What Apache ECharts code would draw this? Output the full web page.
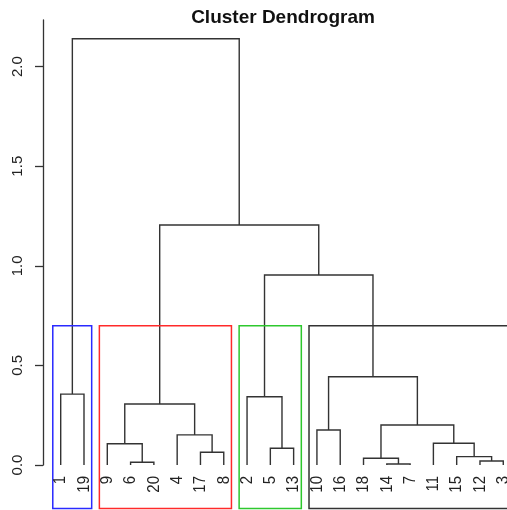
<!DOCTYPE html>
<html>
<head>
<meta charset="utf-8">
<script src="https://cdn.jsdelivr.net/npm/echarts@6/dist/echarts.min.js"></script>
<style>html,body{margin:0;padding:0;background:#fff}#c{width:507px;height:510px}</style>
</head>
<body>
<div id="c"></div>
<script>
// ---- data ----
var titleText = 'Cluster Dendrogram';
// leaf labels in dendrogram order (left to right)
var leafOrder = [1, 19, 9, 6, 20, 4, 17, 8, 2, 5, 13, 10, 16, 18, 14, 7, 11, 15, 12, 3];
// merge table (hclust style): negative = leaf id, positive = earlier merge step
var mergeLeft  = [-14, -6, -12, -18, -15, -17, -5, -9, -11, -4, -10, 4, 8, -2, -1, 11, 14, 13, 15];
var mergeRight = [-7, -20, -3, 1, 3, -8, -13, 2, 5, 6, -16, 9, 10, 7, -19, 12, 16, 17, 18];
var mergeHeight = [0.005, 0.014, 0.020, 0.034, 0.042, 0.064, 0.084, 0.107, 0.109, 0.151,
                   0.176, 0.201, 0.306, 0.343, 0.356, 0.443, 0.954, 1.205, 2.140];
// rect.hclust(k = 4)
var clusterSizes = [2, 6, 3, 9];
var clusterColors = ['#2a2aff', '#ff2a2a', '#2ec82e', '#333333'];
var yTicks = [0, 0.5, 1, 1.5, 2];

// ---- derived (through the tree structure) ----
var leafPos = {};
leafOrder.forEach(function (id, i) { leafPos[id] = i + 1; });
var mergeX = [];
function nodeX(v) { return v < 0 ? leafPos[-v] : mergeX[v - 1]; }
function nodeH(v) { return v < 0 ? 0 : mergeHeight[v - 1]; }
var branchData = [];
for (var i = 0; i < mergeHeight.length; i++) {
  var xl = nodeX(mergeLeft[i]), xr = nodeX(mergeRight[i]);
  mergeX.push((xl + xr) / 2);
  branchData.push([xl, nodeH(mergeLeft[i]), xr, nodeH(mergeRight[i]), mergeHeight[i]]);
}
var k = clusterSizes.length;
var hs = mergeHeight.slice().sort(function (a, b) { return b - a; });
var rectTop = (hs[k - 2] + hs[k - 1]) / 2;
var rectBottom = -0.218;
var rectData = [];
var cum = 0;
clusterSizes.forEach(function (s, j) {
  rectData.push([cum + 0.66, cum + s + 0.33, rectTop, rectBottom, j]);
  cum += s;
});
var labelData = leafOrder.map(function (id, i) { return [i + 1, String(id)]; });

var FONT = '"Liberation Sans", Arial, sans-serif';
var chart = echarts.init(document.getElementById('c'), null, {renderer: 'canvas'});
chart.setOption({
  animation: false,
  backgroundColor: '#ffffff',
  title: {
    text: titleText,
    left: 278,
    textAlign: 'center',
    top: 3,
    textStyle: {fontFamily: FONT, fontSize: 19, fontWeight: 'bold', color: '#111'}
  },
  grid: {left: 43, right: 0, top: 20, bottom: 45, containLabel: false},
  xAxis: {
    type: 'value', min: 0.24, max: 20.16,
    show: false, splitLine: {show: false}
  },
  yAxis: {
    type: 'value', min: 0, max: 2.234,
    axisLine: {show: true, lineStyle: {color: '#333', width: 1.3}},
    axisTick: {show: true, length: 8, customValues: yTicks, lineStyle: {color: '#333', width: 1.3}},
    axisLabel: {
      customValues: yTicks, rotate: 90, margin: 18,
      fontFamily: FONT, fontSize: 15, color: '#222',
      formatter: function (v) { return v.toFixed(1); }
    },
    splitLine: {show: false}
  },
  series: [
    {
      type: 'custom',
      clip: false,
      data: branchData,
      renderItem: function (params, api) {
        var a = api.coord([api.value(0), api.value(1)]);
        var b = api.coord([api.value(0), api.value(4)]);
        var c = api.coord([api.value(2), api.value(4)]);
        var d = api.coord([api.value(2), api.value(3)]);
        return {
          type: 'polyline',
          shape: {points: [a, b, c, d]},
          style: {stroke: '#333', lineWidth: 1.4, fill: null}
        };
      }
    },
    {
      type: 'custom',
      clip: false,
      data: rectData,
      renderItem: function (params, api) {
        var p0 = api.coord([api.value(0), api.value(2)]);
        var p1 = api.coord([api.value(1), api.value(3)]);
        return {
          type: 'rect',
          shape: {x: p0[0], y: p0[1], width: p1[0] - p0[0], height: p1[1] - p0[1]},
          style: {stroke: clusterColors[api.value(4)], lineWidth: 1.5, fill: null}
        };
      }
    },
    {
      type: 'custom',
      clip: false,
      data: labelData,
      renderItem: function (params, api) {
        var p = api.coord([api.value(0), -0.055]);
        return {
          type: 'text',
          x: p[0], y: p[1],
          rotation: Math.PI / 2,
          scaleY: 1.15,
          style: {
            text: labelData[params.dataIndex][1],
            x: 0, y: 0,
            align: 'right', verticalAlign: 'middle',
            font: '15px ' + FONT,
            fill: '#222'
          }
        };
      }
    }
  ]
});
</script>
</body>
</html>
